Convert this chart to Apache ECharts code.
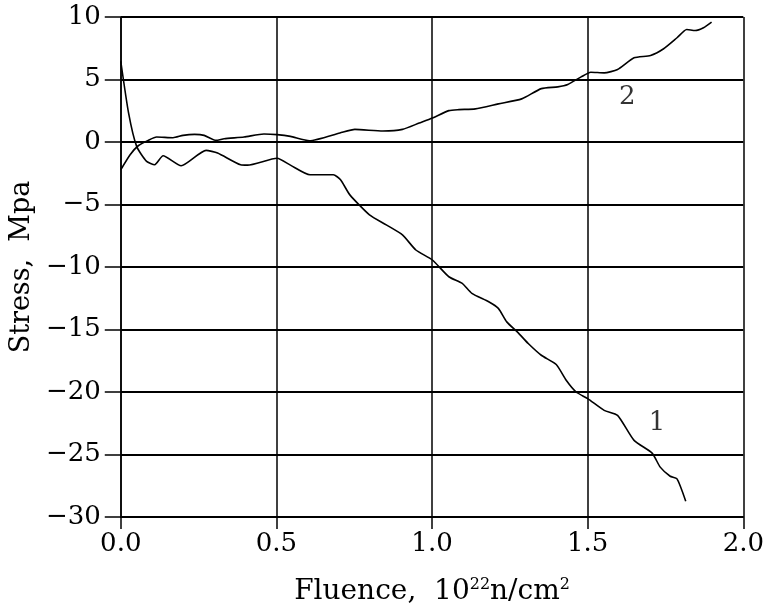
<!DOCTYPE html>
<html>
<head>
<meta charset="utf-8">
<script src="https://cdn.jsdelivr.net/npm/echarts@6/dist/echarts.min.js"></script>
<style>html,body{margin:0;padding:0;background:#fff;}#c{width:767px;height:613px;}</style>
</head>
<body>
<div id="c"></div>
<script>
// Curve 1
var x1 = [0, 0.025, 0.051, 0.083, 0.109, 0.136, 0.194, 0.274, 0.311, 0.385, 0.407, 0.502, 0.545, 0.608, 0.683, 0.706, 0.736, 0.799, 0.853, 0.905, 0.948, 1.001, 1.054, 1.097, 1.128, 1.182, 1.213, 1.240, 1.277, 1.309, 1.351, 1.399, 1.431, 1.463, 1.500, 1.553, 1.596, 1.649, 1.707, 1.733, 1.765, 1.787, 1.815];
var y1 = [6.46, 2.33, -0.35, -1.55, -1.82, -1.10, -1.90, -0.67, -0.88, -1.82, -1.85, -1.30, -1.85, -2.62, -2.62, -3.02, -4.23, -5.83, -6.63, -7.43, -8.64, -9.44, -10.78, -11.31, -12.11, -12.78, -13.31, -14.39, -15.27, -16.12, -17.06, -17.80, -19.06, -20.0, -20.53, -21.47, -21.87, -23.87, -24.89, -26.01, -26.74, -26.95, -28.74];
// Curve 2
var x2 = [0, 0.030, 0.056, 0.088, 0.115, 0.168, 0.200, 0.237, 0.268, 0.306, 0.332, 0.396, 0.460, 0.502, 0.545, 0.606, 0.704, 0.752, 0.842, 0.905, 0.959, 1.001, 1.054, 1.086, 1.139, 1.213, 1.288, 1.351, 1.404, 1.436, 1.479, 1.510, 1.553, 1.596, 1.649, 1.702, 1.744, 1.787, 1.818, 1.845, 1.872, 1.898];
var y2 = [-2.22, -1.02, -0.30, 0.13, 0.40, 0.34, 0.53, 0.61, 0.53, 0.13, 0.26, 0.40, 0.64, 0.59, 0.45, 0.10, 0.72, 1.01, 0.88, 1.01, 1.52, 1.92, 2.51, 2.59, 2.65, 3.05, 3.45, 4.27, 4.41, 4.60, 5.21, 5.58, 5.53, 5.80, 6.74, 6.92, 7.46, 8.34, 9.00, 8.92, 9.14, 9.59];
// Curve labels
var curveNames = ['1', '2'];
var labelX = [1.723, 1.627];
var labelY = [-22.5, 3.6];
// Axis ticks
var xTicks = [0, 0.5, 1.0, 1.5, 2.0];
var yTicks = [-30, -25, -20, -15, -10, -5, 0, 5, 10];

function zip(a, b) { return a.map(function (v, i) { return [v, b[i]]; }); }
var FONT = 'DejaVu Serif';
var chart = echarts.init(document.getElementById('c'));
chart.setOption({
  backgroundColor: '#fff',
  animation: false,
  grid: { left: 119, right: 20, top: 17, bottom: 96 },
  xAxis: {
    type: 'value', min: xTicks[0], max: xTicks[xTicks.length - 1], interval: 0.5,
    name: '{a|Fluence,  10}{s|22}{a|n/cm}{s|2}',
    nameLocation: 'middle', nameGap: 60,
    nameTextStyle: {
      color: '#000', fontFamily: FONT, fontSize: 28,
      rich: {
        a: { fontFamily: FONT, fontSize: 28, color: '#000' },
        s: { fontFamily: FONT, fontSize: 16, color: '#000', verticalAlign: 'top', padding: [0, 0, 14, 0] }
      }
    },
    axisLine: { show: true, onZero: false, lineStyle: { color: '#000', width: 1.5 } },
    axisTick: { show: true, inside: false, length: 12, lineStyle: { color: '#000', width: 1.5 } },
    axisLabel: { color: '#000', fontFamily: FONT, fontSize: 26, margin: 14,
      formatter: function (v) { return v.toFixed(1); } },
    splitLine: { show: true, lineStyle: { color: '#000', width: 1.5 } }
  },
  yAxis: {
    type: 'value', min: yTicks[0], max: yTicks[yTicks.length - 1], interval: 5,
    name: 'Stress,  Mpa', nameLocation: 'middle', nameGap: 84, nameRotate: 90,
    nameTextStyle: { color: '#000', fontFamily: FONT, fontSize: 27 },
    axisLine: { show: true, onZero: false, lineStyle: { color: '#000', width: 1.5 } },
    axisTick: { show: true, inside: false, length: 16, lineStyle: { color: '#000', width: 1.5 } },
    axisLabel: { color: '#000', fontFamily: FONT, fontSize: 26, margin: 20,
      formatter: function (v) { return (v < 0 ? '\u2212' + Math.abs(v) : String(v)); } },
    splitLine: { show: true, lineStyle: { color: '#000', width: 1.8 } }
  },
  series: [
    { type: 'line', data: zip(x1, y1), showSymbol: false, smooth: 0.2,
      lineStyle: { color: '#000', width: 1.6 } },
    { type: 'line', data: zip(x2, y2), showSymbol: false, smooth: 0.2,
      lineStyle: { color: '#000', width: 1.6 } },
    { type: 'scatter', symbolSize: 0,
      data: curveNames.map(function (n, i) { return { name: n, value: [labelX[i], labelY[i]] }; }),
      label: { show: true, position: 'inside', formatter: '{b}', color: '#000', fontFamily: FONT, fontSize: 26 } }
  ]
});
</script>
</body>
</html>
